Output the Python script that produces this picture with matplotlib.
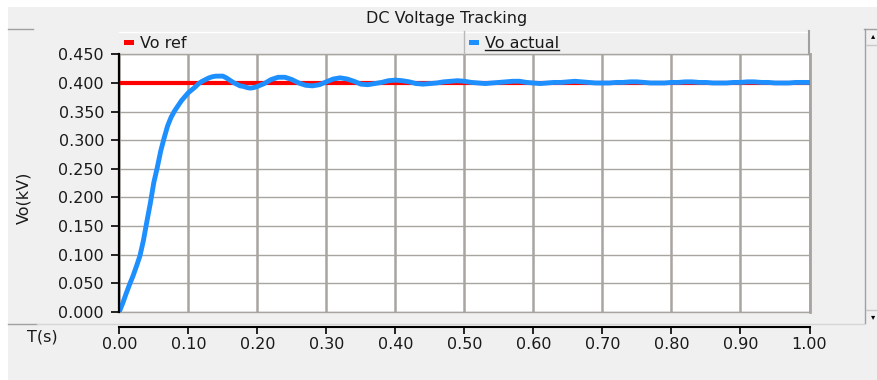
import matplotlib
matplotlib.use("Agg")
import matplotlib.pyplot as plt
import numpy as np
from matplotlib.patches import Rectangle
from matplotlib.lines import Line2D

# simulated output voltage (kV)
t_fast = [0.000, 0.005, 0.010, 0.015, 0.020, 0.025, 0.030, 0.035, 0.040, 0.045,
          0.050, 0.055, 0.060, 0.065, 0.070, 0.075, 0.080, 0.085, 0.090, 0.095,
          0.100, 0.105, 0.110, 0.115, 0.120, 0.125, 0.130, 0.135, 0.140, 0.145,
          0.150, 0.155, 0.160, 0.165, 0.170, 0.175, 0.180, 0.185, 0.190, 0.195]
v_fast = [0.000, 0.015, 0.032, 0.048, 0.063, 0.080, 0.098, 0.125, 0.158, 0.190,
          0.226, 0.252, 0.281, 0.304, 0.325, 0.340, 0.351, 0.360, 0.369, 0.376,
          0.383, 0.388, 0.393, 0.399, 0.403, 0.406, 0.409, 0.411, 0.412, 0.412,
          0.412, 0.409, 0.405, 0.401, 0.398, 0.395, 0.394, 0.392, 0.391, 0.392]
t_slow = [round(0.20 + 0.01 * i, 2) for i in range(81)]
v_slow = [0.394, 0.399, 0.406, 0.410, 0.410, 0.406, 0.400, 0.396, 0.395, 0.397,
          0.402, 0.407, 0.409, 0.407, 0.403, 0.398, 0.397, 0.399, 0.401, 0.404,
          0.405, 0.404, 0.402, 0.399, 0.398, 0.399, 0.400, 0.402, 0.403, 0.404,
          0.403, 0.401, 0.400, 0.399, 0.400, 0.401, 0.402, 0.403, 0.403, 0.401,
          0.400, 0.399, 0.400, 0.401, 0.401, 0.402, 0.403, 0.402, 0.401, 0.400,
          0.400, 0.400, 0.401, 0.401, 0.402, 0.402, 0.401, 0.400, 0.400, 0.400,
          0.401, 0.401, 0.402, 0.402, 0.401, 0.401, 0.400, 0.400, 0.400, 0.401,
          0.401, 0.402, 0.402, 0.401, 0.401, 0.400, 0.400, 0.400, 0.401, 0.401,
          0.401]
t_act = t_fast + t_slow
v_act = v_fast + v_slow

t_ref = [0.0, 1.0]
v_ref = [0.4, 0.4]

y_ticks = [0.000, 0.050, 0.100, 0.150, 0.200, 0.250, 0.300, 0.350, 0.400, 0.450]
x_ticks = [0.0, 0.1, 0.2, 0.3, 0.4, 0.5, 0.6, 0.7, 0.8, 0.9, 1.0]

W, H = 877, 380
GRID = "#a8a4a0"
FS = 11.5


def fx(x):
    return x / W


def fy(y):
    return 1 - y / H


def hline(y, x0, x1, color, lw=1.0):
    fig.add_artist(Line2D([fx(x0), fx(x1)], [fy(y), fy(y)], transform=fig.transFigure,
                          color=color, lw=lw))


def vline(x, y0, y1, color, lw=1.0):
    fig.add_artist(Line2D([fx(x), fx(x)], [fy(y0), fy(y1)], transform=fig.transFigure,
                          color=color, lw=lw))


def box(x0, y0, x1, y1, color):
    fig.add_artist(Rectangle((fx(x0), fy(y1)), fx(x1) - fx(x0), fy(y0) - fy(y1),
                             transform=fig.transFigure, color=color, lw=0, zorder=0))


fig = plt.figure(figsize=(8.77, 3.8), dpi=100, facecolor="#f0f0f0")

# window chrome
box(0, 0, W, 7, "white")
box(0, 0, 8, H, "white")
hline(28.5, 8, 33, "#a0a0a0")
hline(323.5, 8, 37, "#a0a0a0")
hline(323.5, 37, 864, "#d6d6d6")
vline(864.5, 29, 323, "#a0a0a0")
hline(29, 864, 877, "#a0a0a0")
hline(45, 866, 877, "#c8c8c8")
hline(310, 866, 877, "#c8c8c8")
fig.text(fx(873), fy(36), "\u25b4", fontsize=6, ha="center", va="center", color="black")
fig.text(fx(873), fy(317), "\u25be", fontsize=6, ha="center", va="center", color="black")

# legend bar
box(119, 31, 809, 53.5, "#efefef")
hline(31.5, 119, 809, "white")
vline(808.5, 31, 54, "#a0a0a0", 1.5)
vline(464, 31, 54, "#b8b8b8")
box(124, 39.5, 134, 44.5, "red")
box(469, 39.5, 479, 44.5, "#1e8fff")
fig.text(fx(140), fy(43), "Vo ref", fontsize=FS, ha="left", va="center", color="#1a1a1a")
fig.text(fx(485), fy(43), "Vo actual", fontsize=FS, ha="left", va="center", color="#1a1a1a")
hline(49.5, 485, 559, "#1a1a1a", 1.0)

fig.text(fx(446.5), fy(18.5), "DC Voltage Tracking", fontsize=FS, ha="center",
         va="center", color="#1a1a1a")

# main plot
left, right, top, bottom = 119.3, 809.5, 54.4, 311.7
ax = fig.add_axes([fx(left), fy(bottom), fx(right) - fx(left), (bottom - top) / H])
ax.set_facecolor("white")
ax.plot(t_ref, v_ref, color="red", lw=3.0, zorder=3, solid_capstyle="butt")
ax.plot(t_act, v_act, color="#1e8fff", lw=3.5, zorder=4)
ax.set_xlim(0, 1)
ax.set_ylim(0, 0.45)
ax.set_xticks(x_ticks)
ax.set_yticks(y_ticks)
ax.set_yticklabels(["%.3f" % v for v in y_ticks], fontsize=FS, color="#1a1a1a")
ax.tick_params(axis="x", length=0, labelbottom=False)
ax.tick_params(axis="y", length=6, width=1.2, pad=5)
ax.grid(axis="x", color=GRID, lw=1.8)
ax.grid(axis="y", color=GRID, lw=1.0)
ax.set_axisbelow(True)
ax.spines["left"].set_color("black")
ax.spines["left"].set_linewidth(1.6)
ax.spines["left"].set_zorder(5)
ax.spines["right"].set_color(GRID)
ax.spines["right"].set_linewidth(2.0)
ax.spines["top"].set_color(GRID)
ax.spines["top"].set_linewidth(1.0)
ax.spines["bottom"].set_color(GRID)
ax.spines["bottom"].set_linewidth(1.0)

# separate x axis strip below the plot
ax2 = fig.add_axes([fx(left), fy(327), fx(right) - fx(left), 0.0001])
ax2.set_xlim(0, 1)
ax2.set_xticks(x_ticks)
ax2.set_xticklabels(["%.2f" % v for v in x_ticks], fontsize=FS, color="#1a1a1a")
ax2.tick_params(axis="x", length=5, width=1.2, pad=2, direction="out")
ax2.set_yticks([])
ax2.patch.set_alpha(0)
for s in ["left", "right", "top"]:
    ax2.spines[s].set_visible(False)
ax2.spines["bottom"].set_color("black")
ax2.spines["bottom"].set_linewidth(1.5)

fig.text(fx(27), fy(337), "T(s)", fontsize=FS, ha="left", va="center", color="#1a1a1a")
fig.text(fx(24), fy(198), "Vo(kV)", fontsize=FS, ha="center", va="center",
         rotation=90, color="#1a1a1a")

fig.savefig("out.png", dpi=100, facecolor=fig.get_facecolor())
